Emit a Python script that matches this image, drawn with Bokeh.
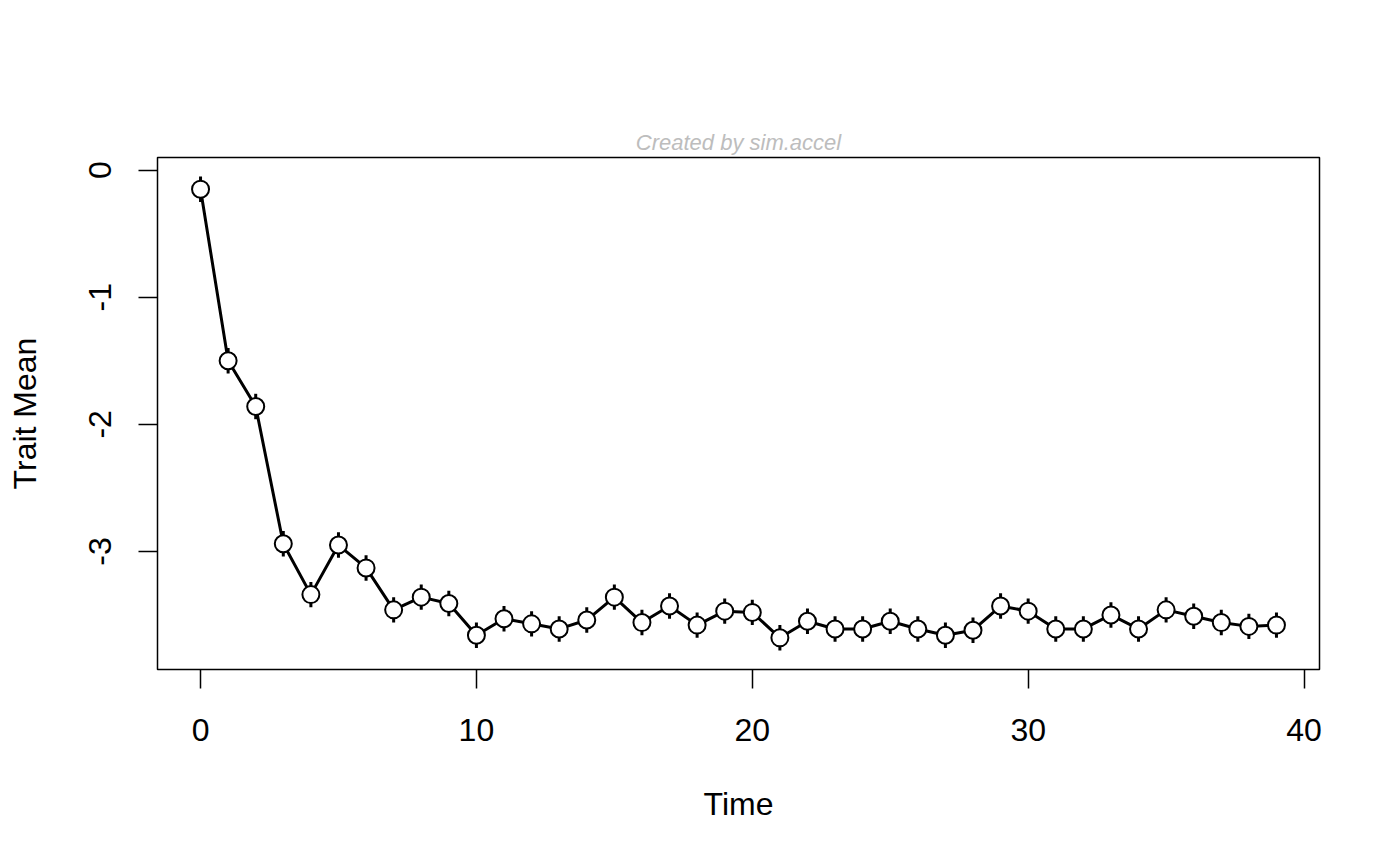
from bokeh.plotting import figure
from bokeh.models import FixedTicker, Range1d
from bokeh.embed import file_html
from bokeh.resources import INLINE

# ---- data ----
time = [0, 1, 2, 3, 4, 5, 6, 7, 8, 9,
        10, 11, 12, 13, 14, 15, 16, 17, 18, 19,
        20, 21, 22, 23, 24, 25, 26, 27, 28, 29,
        30, 31, 32, 33, 34, 35, 36, 37, 38, 39]
trait_mean = [-0.15, -1.50, -1.86, -2.94, -3.34, -2.95, -3.13, -3.46, -3.36, -3.41,
              -3.66, -3.53, -3.57, -3.61, -3.54, -3.36, -3.56, -3.43, -3.58, -3.47,
              -3.48, -3.68, -3.55, -3.61, -3.61, -3.55, -3.61, -3.66, -3.62, -3.43,
              -3.47, -3.61, -3.61, -3.50, -3.61, -3.46, -3.51, -3.56, -3.59, -3.58]
trait_se = [0.10, 0.10, 0.10, 0.10, 0.10, 0.10, 0.10, 0.10, 0.10, 0.10,
            0.10, 0.10, 0.10, 0.10, 0.10, 0.10, 0.10, 0.10, 0.10, 0.10,
            0.10, 0.10, 0.10, 0.10, 0.10, 0.10, 0.10, 0.10, 0.10, 0.10,
            0.10, 0.10, 0.10, 0.10, 0.10, 0.10, 0.10, 0.10, 0.10, 0.10]
x_ticks = [0, 10, 20, 30, 40]
x_tick_labels = ["0", "10", "20", "30", "40"]
y_ticks = [0, -1, -2, -3]
y_tick_labels = ["0", "-1", "-2", "-3"]
title_text = "Created by sim.accel"
x_label = "Time"
y_label = "Trait Mean"

lower = [m - s for m, s in zip(trait_mean, trait_se)]
upper = [m + s for m, s in zip(trait_mean, trait_se)]


def r_range(lo, hi):
    pad = 0.04 * (hi - lo)
    return lo - pad, hi + pad


x0, x1 = r_range(min(time), max(time))
y0, y1 = r_range(min(lower), max(upper))

FONT = "Liberation Sans"

p = figure(width=1400, height=866, output_backend="svg", toolbar_location=None,
           x_range=Range1d(x0, x1), y_range=Range1d(y0, y1),
           min_border_left=157, min_border_right=81,
           min_border_top=157, min_border_bottom=197,
           title=title_text)

p.background_fill_color = "white"
p.border_fill_color = "white"
p.outline_line_color = "black"
p.outline_line_width = 1.5
p.xgrid.visible = False
p.ygrid.visible = False

p.title.align = "center"
p.title.text_font = FONT
p.title.text_font_style = "italic"
p.title.text_font_size = "22px"
p.title.text_color = "#bdbdbd"
p.title.standoff = 5

for ax in (p.xaxis[0], p.yaxis[0]):
    ax.axis_line_color = None
    ax.major_tick_in = 0
    ax.major_tick_out = 19
    ax.major_tick_line_width = 1.5
    ax.major_tick_line_color = "black"
    ax.minor_tick_line_color = None
    ax.major_label_text_font = FONT
    ax.major_label_text_font_size = "32px"
    ax.major_label_text_color = "black"
    ax.axis_label_text_font = FONT
    ax.axis_label_text_font_size = "32px"
    ax.axis_label_text_font_style = "normal"
    ax.axis_label_text_color = "black"

p.xaxis.ticker = FixedTicker(ticks=x_ticks)
p.yaxis.ticker = FixedTicker(ticks=y_ticks)
p.xaxis.major_label_overrides = dict(zip(x_ticks, x_tick_labels))
p.yaxis.major_label_overrides = dict(zip(y_ticks, y_tick_labels))
p.xaxis.axis_label = x_label
p.yaxis.axis_label = y_label
p.xaxis.major_label_standoff = 30
p.yaxis.major_label_standoff = 27
p.yaxis.major_label_orientation = "vertical"
p.xaxis.axis_label_standoff = 42
p.yaxis.axis_label_standoff = 44

# error bars
p.segment(x0=time, y0=lower, x1=time, y1=upper, line_color="black", line_width=3)
# connecting line
p.line(time, trait_mean, line_color="black", line_width=3)
# points
p.scatter(time, trait_mean, marker="circle", size=17, fill_color="white",
          line_color="black", line_width=2)

open("out.html", "w").write(file_html(p, INLINE))
